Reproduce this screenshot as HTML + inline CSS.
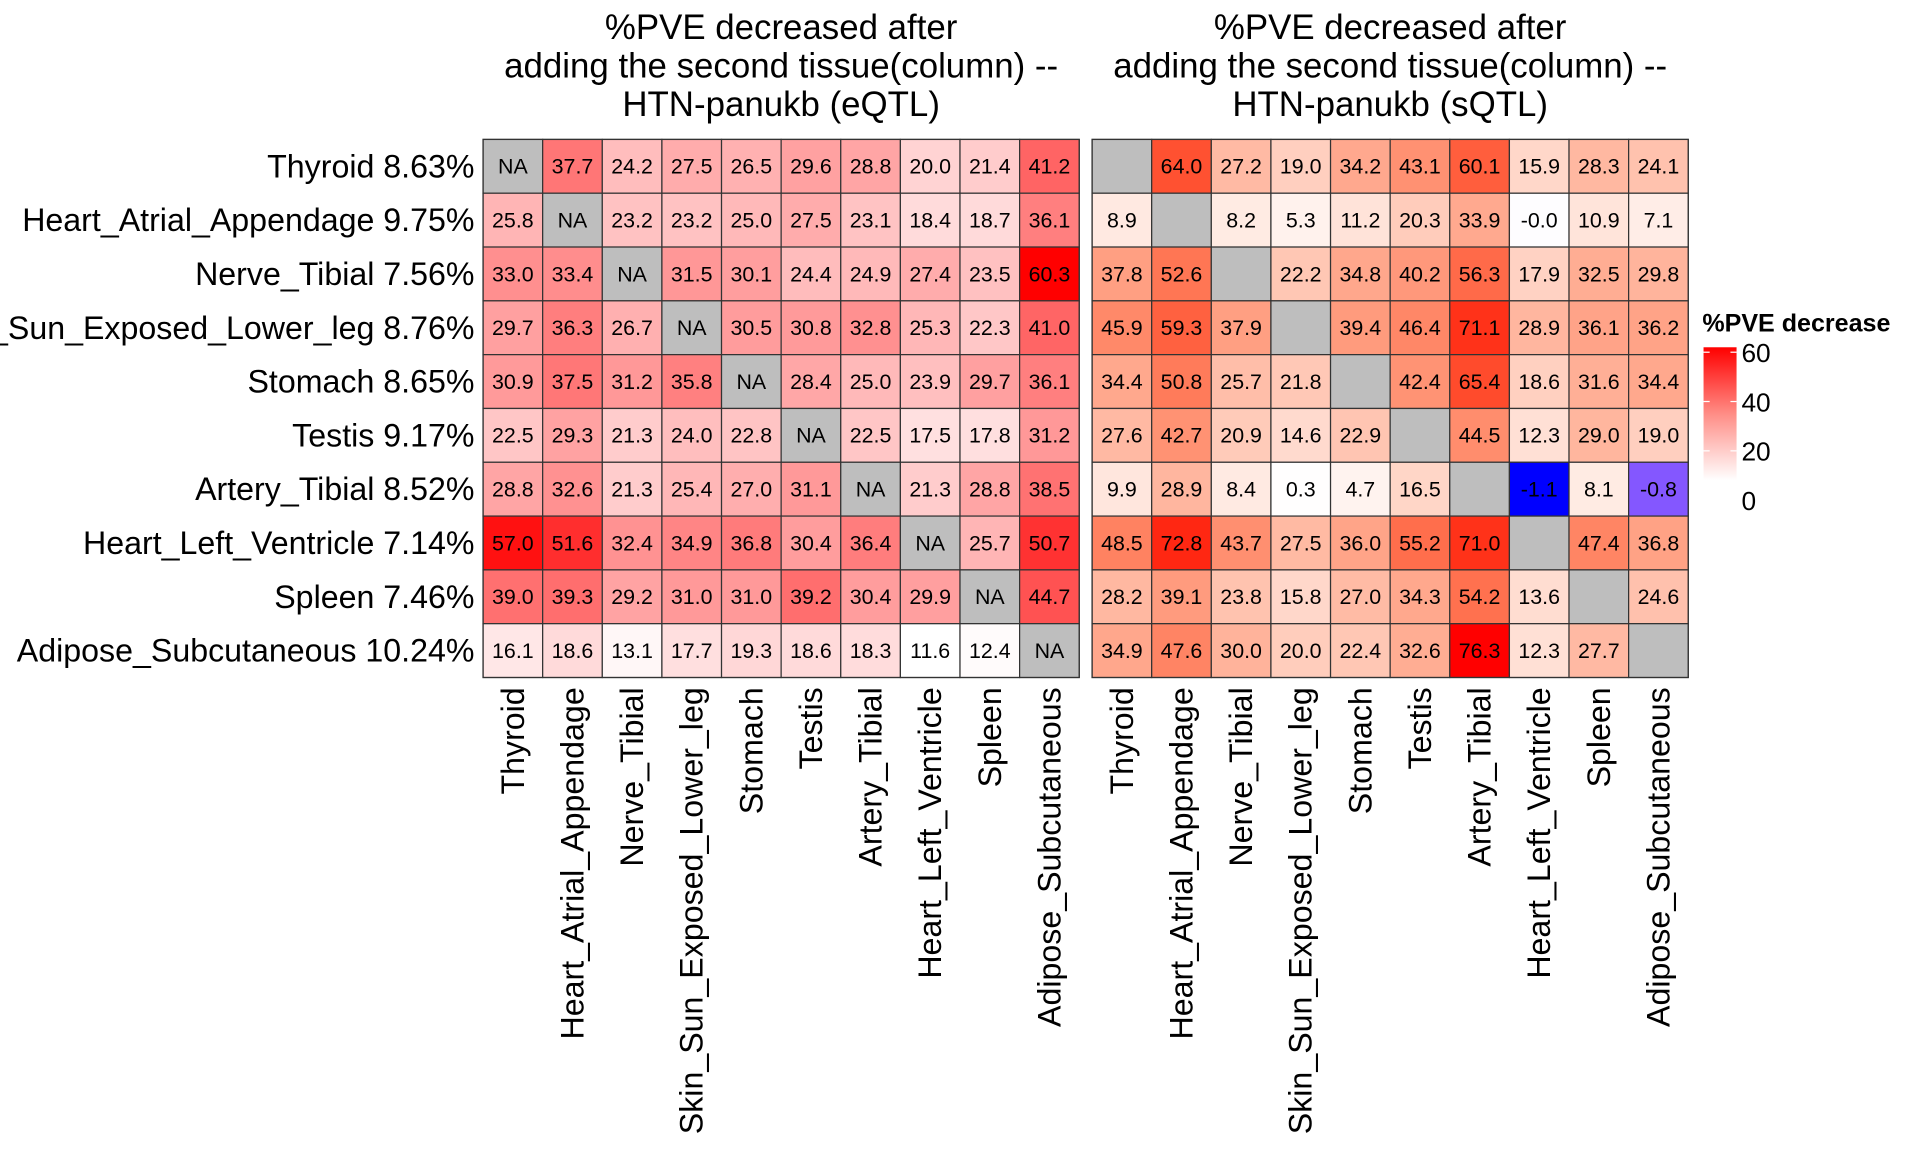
<!DOCTYPE html>
<html><head><meta charset="utf-8"><style>
html,body{margin:0;padding:0;background:#fff;}
svg{display:block;font-family:"Liberation Sans",Arial,sans-serif;}
</style></head><body>
<svg id="chart" xmlns="http://www.w3.org/2000/svg" width="1920" height="1152" viewBox="0 0 1570 942">
<defs>
<linearGradient id="lg" x1="0" y1="0" x2="0" y2="1">
<stop offset="0" stop-color="#ff0000"/><stop offset="0.5" stop-color="#ff8d86"/><stop offset="1" stop-color="#ffffff"/>
</linearGradient>
</defs>
<g id="root"></g>
</svg>
<script>
const tissues = ["Thyroid","Heart_Atrial_Appendage","Nerve_Tibial","Skin_Sun_Exposed_Lower_leg","Stomach","Testis","Artery_Tibial","Heart_Left_Ventricle","Spleen","Adipose_Subcutaneous"];
const rowPct = ["8.63%","9.75%","7.56%","8.76%","8.65%","9.17%","8.52%","7.14%","7.46%","10.24%"];
const eqtlValues = [
[null,37.7,24.2,27.5,26.5,29.6,28.8,20.0,21.4,41.2],
[25.8,null,23.2,23.2,25.0,27.5,23.1,18.4,18.7,36.1],
[33.0,33.4,null,31.5,30.1,24.4,24.9,27.4,23.5,60.3],
[29.7,36.3,26.7,null,30.5,30.8,32.8,25.3,22.3,41.0],
[30.9,37.5,31.2,35.8,null,28.4,25.0,23.9,29.7,36.1],
[22.5,29.3,21.3,24.0,22.8,null,22.5,17.5,17.8,31.2],
[28.8,32.6,21.3,25.4,27.0,31.1,null,21.3,28.8,38.5],
[57.0,51.6,32.4,34.9,36.8,30.4,36.4,null,25.7,50.7],
[39.0,39.3,29.2,31.0,31.0,39.2,30.4,29.9,null,44.7],
[16.1,18.6,13.1,17.7,19.3,18.6,18.3,11.6,12.4,null]];
const sqtlValues = [
[null,64.0,27.2,19.0,34.2,43.1,60.1,15.9,28.3,24.1],
[8.9,null,8.2,5.3,11.2,20.3,33.9,-0.01,10.9,7.1],
[37.8,52.6,null,22.2,34.8,40.2,56.3,17.9,32.5,29.8],
[45.9,59.3,37.9,null,39.4,46.4,71.1,28.9,36.1,36.2],
[34.4,50.8,25.7,21.8,null,42.4,65.4,18.6,31.6,34.4],
[27.6,42.7,20.9,14.6,22.9,null,44.5,12.3,29.0,19.0],
[9.9,28.9,8.4,0.3,4.7,16.5,null,-1.1,8.1,-0.8],
[48.5,72.8,43.7,27.5,36.0,55.2,71.0,null,47.4,36.8],
[28.2,39.1,23.8,15.8,27.0,34.3,54.2,13.6,null,24.6],
[34.9,47.6,30.0,20.0,22.4,32.6,76.3,12.3,27.7,null]];
const legendTicks = [0,20,40,60];

const NS="http://www.w3.org/2000/svg";
const root=document.getElementById('root');
function mk(tag,attrs,parent){const e=document.createElementNS(NS,tag);for(const k in attrs)e.setAttribute(k,attrs[k]);(parent||root).appendChild(e);return e;}

function toLin(c){c/=255;return c<=0.04045?c/12.92:Math.pow((c+0.055)/1.055,2.4);}
function fromLin(c){c=c<=0.0031308?12.92*c:1.055*Math.pow(c,1/2.4)-0.055;return Math.max(0,Math.min(255,Math.round(c*255)));}
function rgb2lab(r,g,b){r=toLin(r);g=toLin(g);b=toLin(b);
let x=(r*0.4124+g*0.3576+b*0.1805)/0.95047,y=(r*0.2126+g*0.7152+b*0.0722),z=(r*0.0193+g*0.1192+b*0.9505)/1.08883;
const f=t=>t>0.008856?Math.cbrt(t):7.787*t+16/116;x=f(x);y=f(y);z=f(z);return [116*y-16,500*(x-y),200*(y-z)];}
function lab2rgb(L,a,bb){let y=(L+16)/116,x=a/500+y,z=y-bb/200;const fi=t=>t*t*t>0.008856?t*t*t:(t-16/116)/7.787;
x=fi(x)*0.95047;y=fi(y);z=fi(z)*1.08883;
const r=x*3.2406+y*-1.5372+z*-0.4986,g=x*-0.9689+y*1.8758+z*0.0415,b=x*0.0557+y*-0.2040+z*1.0570;
return `rgb(${fromLin(r)},${fromLin(g)},${fromLin(b)})`;}
const W=rgb2lab(255,255,255),R=rgb2lab(255,0,0),B=rgb2lab(0,0,255);
function labMix(c1,c2,t){t=Math.max(0,Math.min(1,t));return lab2rgb(c1[0]+(c2[0]-c1[0])*t,c1[1]+(c2[1]-c1[1])*t,c1[2]+(c2[2]-c1[2])*t);}
function colorE(v){const t=Math.max(0,Math.min(1,(v-11.6)/(60.3-11.6)));const c=Math.round(255*(1-t));return `rgb(255,${c},${c})`;}
function colorS(v){if(v<0)return labMix(W,B,-v/1.1);return labMix(W,R,v/76.3);}

const cw=48.75,ch=44,top0=114;
function panel(x0,vals,colorFn,showNA,name,titleLines){
  const g=mk('g',{});
  
  
  const cx=x0+cw*5;
  titleLines.forEach((t,i)=>{const e=mk('text',{x:cx,y:32+i*31.5,'text-anchor':'middle','font-size':28.5,fill:'#000'},g);e.textContent=t;
    
    });
  vals.forEach((row,r)=>row.forEach((v,c)=>{
    const x=x0+c*cw,y=top0+r*ch;
    const rc=mk('rect',{x:x,y:y,width:cw,height:ch,fill:v===null?'#bebebe':colorFn(v),stroke:'#333','stroke-width':1},g);
    
    
    if(v!==null||showNA){const t=mk('text',{x:x+cw/2,y:y+ch/2+6,'text-anchor':'middle','font-size':17.5,fill:'#000'},g);
      t.textContent=v===null?'NA':v.toFixed(1);
      
      }
  }));
  mk('rect',{x:x0,y:top0,width:cw*10,height:ch*10,fill:'none',stroke:'#333','stroke-width':1},g);
  tissues.forEach((t,c)=>{const x=x0+c*cw+cw/2+9;
    const e=mk('text',{x:x,y:562,'text-anchor':'end','font-size':26.3,transform:`rotate(-90 ${x} 562)`},g);e.textContent=t;
    
    });
}
panel(395,eqtlValues,colorE,true,'eqtl-heatmap',["%PVE decreased after","adding the second tissue(column) --","HTN-panukb (eQTL)"]);
panel(893,sqtlValues,colorS,false,'sqtl-heatmap',["%PVE decreased after","adding the second tissue(column) --","HTN-panukb (sQTL)"]);
tissues.forEach((t,r)=>{const e=mk('text',{x:388,y:top0+r*ch+ch/2+9,'text-anchor':'end','font-size':26.3});e.textContent=t+' '+rowPct[r];
  
  });
const lg=mk('g',{});


const lt=mk('text',{x:1392,y:271,'font-size':20.5,'font-weight':'bold'},lg);lt.textContent='%PVE decrease';


const ly=v=>409-v*(121/60);
const bar=mk('rect',{x:1393,y:ly(62),width:27,height:ly(8)-ly(62),fill:'url(#lg)'},lg);


legendTicks.forEach(v=>{const y=ly(v);
  if(v>0){mk('line',{x1:1393,x2:1398,y1:y,y2:y,stroke:'#fff','stroke-width':1},lg);mk('line',{x1:1415,x2:1420,y1:y,y2:y,stroke:'#fff','stroke-width':1},lg);}
  const t=mk('text',{x:1424,y:y+8,'font-size':21.5},lg);t.textContent=v;
  
  });
</script>
</body></html>
